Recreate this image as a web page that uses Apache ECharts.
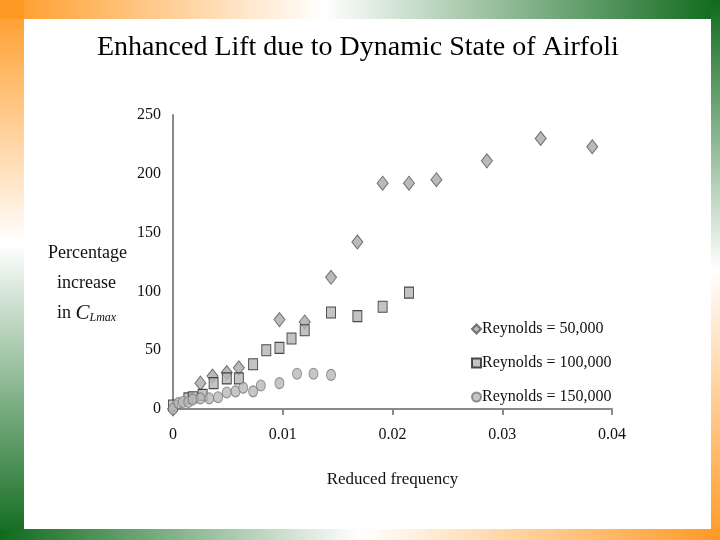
<!DOCTYPE html>
<html>
<head>
<meta charset="utf-8">
<script src="https://cdn.jsdelivr.net/npm/echarts@6/dist/echarts.min.js"></script>
<style>
  html, body { margin: 0; padding: 0; background: #fff; }
  #main { width: 720px; height: 540px; }
</style>
</head>
<body>
<div id="main"></div>
<script>
// reduced frequency / percentage increase in CLmax
var re50Freq = [0, 0.0025, 0.0036, 0.0049, 0.0060, 0.0097, 0.0120, 0.0144, 0.0168, 0.0191, 0.0215, 0.0240, 0.0286, 0.0335, 0.0382];
var re50Gain = [0, 22, 28, 31, 35, 76, 74, 112, 142, 192, 192, 195, 211, 230, 223];

var re100Freq = [0, 0.0014, 0.0018, 0.0027, 0.0037, 0.0049, 0.0060, 0.0073, 0.0085, 0.0097, 0.0108, 0.0120, 0.0144, 0.0168, 0.0191, 0.0215];
var re100Gain = [3, 9, 10, 12, 22, 26, 26, 38, 50, 52, 60, 67, 82, 79, 87, 99];

var re150Freq = [0, 0.0005, 0.0009, 0.0014, 0.0018, 0.0025, 0.0033, 0.0041, 0.0049, 0.0057, 0.0064, 0.0073, 0.0080, 0.0097, 0.0113, 0.0128, 0.0144];
var re150Gain = [0, 5, 6, 6, 8, 9, 9, 10, 14, 15, 18, 15, 20, 22, 30, 30, 29];

var seriesNames = ['Reynolds = 50,000', 'Reynolds = 100,000', 'Reynolds = 150,000'];
var xTicks = [0, 0.01, 0.02, 0.03, 0.04];
var yTicks = [0, 50, 100, 150, 200, 250];

function pairs(xs, ys) {
  var out = [];
  for (var i = 0; i < xs.length; i++) {
    out.push([xs[i], ys[i]]);
  }
  return out;
}

var serif = '"Liberation Serif", "DejaVu Serif", serif';
var orange = '#ff9a24';
var green = '#0f6a1c';

var myChart = echarts.init(document.getElementById('main'));

var option = {
  backgroundColor: '#fff',
  animation: false,
  textStyle: { fontFamily: serif },
  title: {
    text: 'Enhanced Lift due to Dynamic State of Airfoli',
    left: 92,
    top: 29,
    textStyle: { fontFamily: serif, fontSize: 28, fontWeight: 'normal', color: '#000' }
  },
  grid: { left: 173, right: 108, top: 115, bottom: 131 },
  legend: {
    orient: 'vertical',
    left: 466,
    top: 316,
    itemWidth: 9,
    itemHeight: 9,
    itemGap: 18,
    textStyle: { fontFamily: serif, fontSize: 16, color: '#111', padding: [0, 0, 0, -4] },
    data: seriesNames
  },
  xAxis: {
    type: 'value',
    min: xTicks[0],
    max: xTicks[xTicks.length - 1],
    interval: 0.01,
    splitLine: { show: false },
    axisLine: { onZero: false, lineStyle: { color: '#8a8a8a', width: 2 } },
    axisTick: { show: true, length: 6, lineStyle: { color: '#8a8a8a', width: 2 } },
    axisLabel: { margin: 18, fontFamily: serif, fontSize: 16, color: '#111' },
    name: 'Reduced frequency',
    nameLocation: 'middle',
    nameGap: 62,
    nameTextStyle: { fontFamily: serif, fontSize: 17, color: '#111' }
  },
  yAxis: {
    type: 'value',
    min: yTicks[0],
    max: yTicks[yTicks.length - 1],
    interval: 50,
    splitLine: { show: false },
    axisLine: { show: true, lineStyle: { color: '#8a8a8a', width: 2 } },
    axisTick: { show: false },
    axisLabel: { margin: 12, fontFamily: serif, fontSize: 16, color: '#111' }
  },
  graphic: [
    // slide border bands
    {
      type: 'rect', shape: { x: 0, y: 0, width: 720, height: 19 }, silent: true,
      style: { fill: new echarts.graphic.LinearGradient(0, 0, 1, 0, [
        { offset: 0, color: orange }, { offset: 0.45, color: '#ffffff' }, { offset: 1, color: green }]) }
    },
    {
      type: 'rect', shape: { x: 0, y: 0, width: 24, height: 540 }, silent: true,
      style: { fill: new echarts.graphic.LinearGradient(0, 0, 0, 1, [
        { offset: 0, color: orange }, { offset: 0.45, color: '#ffffff' }, { offset: 1, color: green }]) }
    },
    {
      type: 'rect', shape: { x: 711, y: 0, width: 9, height: 540 }, silent: true,
      style: { fill: new echarts.graphic.LinearGradient(0, 0, 0, 1, [
        { offset: 0, color: green }, { offset: 0.5, color: '#ffffff' }, { offset: 1, color: orange }]) }
    },
    {
      type: 'rect', shape: { x: 0, y: 529, width: 720, height: 11 }, silent: true,
      style: { fill: new echarts.graphic.LinearGradient(0, 0, 1, 0, [
        { offset: 0, color: green }, { offset: 0.5, color: '#ffffff' }, { offset: 1, color: orange }]) }
    },
    {
      type: 'rect', shape: { x: 0, y: 0, width: 24, height: 19 }, silent: true,
      style: { fill: orange }
    },
    // y axis title
    {
      type: 'text',
      left: 48,
      top: 238,
      style: {
        text: 'Percentage\n  increase\n  in {c|C}{s|Lmax}',
        fill: '#111',
        font: '18px ' + serif,
        lineHeight: 30,
        rich: {
          c: { fontFamily: serif, fontSize: 21, fontStyle: 'italic', fill: '#111' },
          s: { fontFamily: serif, fontSize: 12, fontStyle: 'italic', fill: '#111', padding: [10, 0, 0, 0] }
        }
      }
    }
  ],
  series: [
    {
      name: seriesNames[0],
      type: 'scatter',
      symbol: 'diamond',
      symbolSize: [11, 14],
      itemStyle: { color: '#a9a9a9', borderColor: '#555', borderWidth: 1 },
      data: pairs(re50Freq, re50Gain)
    },
    {
      name: seriesNames[1],
      type: 'scatter',
      symbol: 'rect',
      symbolSize: [9, 11],
      itemStyle: { color: '#b4b4b4', borderColor: '#222', borderWidth: 1 },
      data: pairs(re100Freq, re100Gain)
    },
    {
      name: seriesNames[2],
      type: 'scatter',
      symbol: 'circle',
      symbolSize: [9, 11],
      itemStyle: { color: '#b8b8b8', borderColor: '#777', borderWidth: 1 },
      data: pairs(re150Freq, re150Gain)
    }
  ]
};

myChart.setOption(option);
</script>
</body>
</html>
